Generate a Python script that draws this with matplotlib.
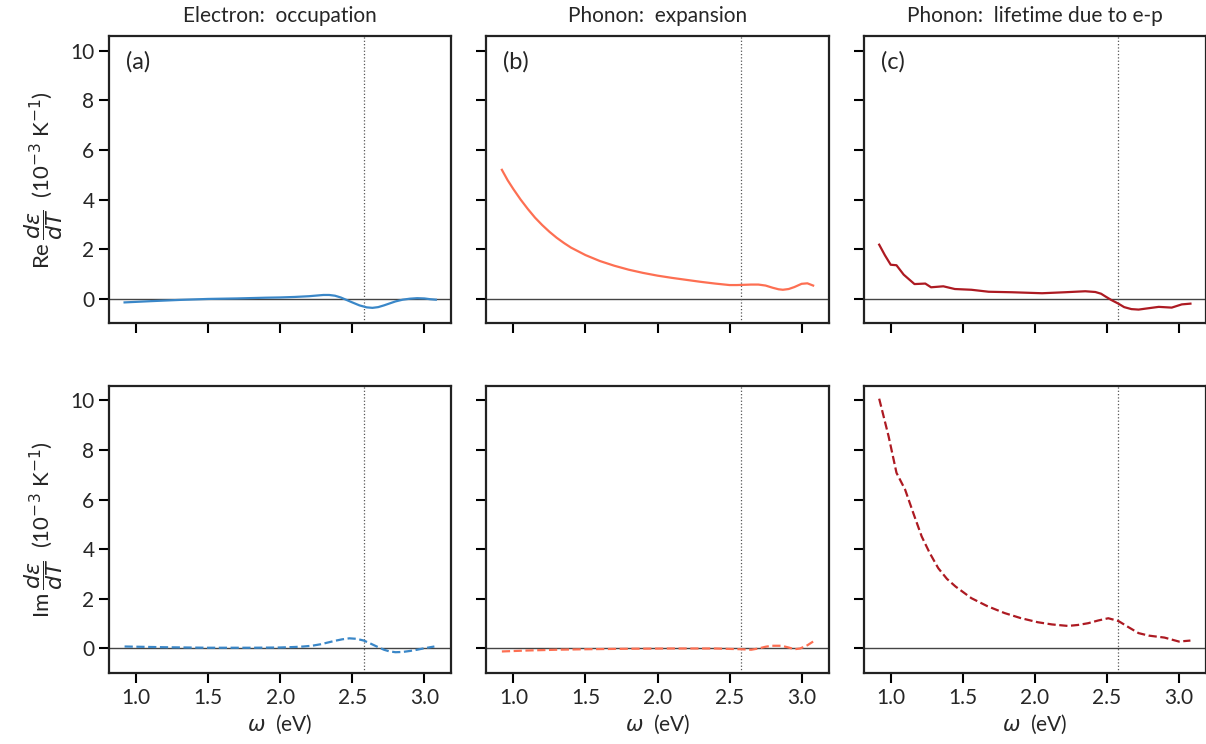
import numpy as np
import matplotlib
matplotlib.use('Agg')
import matplotlib.pyplot as plt

plt.rcParams['font.family'] = ['Lato', 'DejaVu Sans']
plt.rcParams['mathtext.fontset'] = 'dejavusans'
plt.rcParams['font.size'] = 15
plt.rcParams['text.color'] = '#262626'
plt.rcParams['axes.labelcolor'] = '#262626'
plt.rcParams['xtick.labelcolor'] = '#262626'
plt.rcParams['ytick.labelcolor'] = '#262626'

# photon energy grid for each curve (eV)
w_re_occ = [0.92, 1.1, 1.3, 1.5, 1.7, 1.9, 2.0, 2.1, 2.2, 2.26, 2.3, 2.34, 2.38, 2.42, 2.46, 2.5, 2.55, 2.6, 2.64, 2.68, 2.72, 2.76, 2.8, 2.85, 2.9, 2.95, 3.0, 3.04, 3.08]
re_occ = [-0.15, -0.1, -0.05, -0.01, 0.01, 0.04, 0.05, 0.07, 0.1, 0.13, 0.15, 0.15, 0.12, 0.05, -0.05, -0.15, -0.27, -0.35, -0.37, -0.34, -0.27, -0.19, -0.11, -0.04, 0.0, 0.02, 0.01, -0.02, -0.04]

w_im_occ = [0.92, 1.2, 1.5, 1.8, 2.0, 2.1, 2.16, 2.22, 2.28, 2.33, 2.38, 2.43, 2.48, 2.53, 2.58, 2.63, 2.67, 2.72, 2.76, 2.8, 2.85, 2.9, 2.95, 3.0, 3.07]
im_occ = [0.07, 0.04, 0.02, 0.02, 0.03, 0.05, 0.07, 0.1, 0.16, 0.23, 0.3, 0.36, 0.4, 0.38, 0.31, 0.18, 0.07, -0.06, -0.13, -0.16, -0.15, -0.11, -0.06, 0.0, 0.07]

w_re_exp = [0.92, 0.96, 1.0, 1.05, 1.1, 1.15, 1.2, 1.25, 1.3, 1.35, 1.4, 1.5, 1.6, 1.7, 1.8, 1.9, 2.0, 2.1, 2.2, 2.3, 2.4, 2.5, 2.55, 2.6, 2.65, 2.7, 2.75, 2.8, 2.84, 2.87, 2.91, 2.95, 3.0, 3.04, 3.08]
re_exp = [5.2, 4.78, 4.42, 4.0, 3.62, 3.27, 2.97, 2.7, 2.46, 2.25, 2.06, 1.76, 1.52, 1.33, 1.17, 1.04, 0.93, 0.84, 0.76, 0.68, 0.61, 0.55, 0.55, 0.56, 0.57, 0.57, 0.53, 0.44, 0.38, 0.36, 0.39, 0.47, 0.6, 0.62, 0.53]

w_im_exp = [0.92, 1.1, 1.3, 1.5, 1.8, 2.1, 2.4, 2.58, 2.65, 2.7, 2.75, 2.79, 2.86, 2.91, 2.95, 2.99, 3.04, 3.08]
im_exp = [-0.13, -0.09, -0.06, -0.04, -0.02, -0.01, -0.01, -0.04, -0.06, -0.01, 0.06, 0.1, 0.1, 0.03, -0.04, -0.01, 0.12, 0.27]

w_re_life = [0.92, 0.96, 1.0, 1.04, 1.09, 1.165, 1.24, 1.28, 1.365, 1.445, 1.56, 1.68, 1.84, 2.05, 2.21, 2.35, 2.42, 2.46, 2.49, 2.53, 2.58, 2.62, 2.67, 2.72, 2.77, 2.86, 2.95, 3.02, 3.08]
re_life = [2.18, 1.75, 1.37, 1.35, 0.97, 0.59, 0.61, 0.46, 0.5, 0.39, 0.36, 0.28, 0.26, 0.22, 0.26, 0.3, 0.27, 0.2, 0.09, -0.05, -0.2, -0.34, -0.42, -0.44, -0.4, -0.33, -0.36, -0.23, -0.2]

w_im_life = [0.92, 0.985, 1.04, 1.1, 1.16, 1.215, 1.27, 1.33, 1.39, 1.45, 1.56, 1.67, 1.79, 1.9, 2.02, 2.12, 2.23, 2.3, 2.37, 2.44, 2.51, 2.58, 2.65, 2.72, 2.79, 2.9, 2.95, 3.0, 3.08]
im_life = [10.07, 8.56, 7.08, 6.4, 5.4, 4.51, 3.85, 3.23, 2.8, 2.49, 2.02, 1.7, 1.42, 1.22, 1.05, 0.96, 0.9, 0.94, 1.01, 1.12, 1.21, 1.1, 0.85, 0.61, 0.51, 0.43, 0.35, 0.27, 0.31]

titles = ['Electron:  occupation', 'Phonon:  expansion', 'Phonon:  lifetime due to e-p']
panel_tags = ['(a)', '(b)', '(c)']
colors = ['#3a87c8', '#fd6f52', '#ad1a22']
w_gap = 2.58

re_data = [(w_re_occ, re_occ), (w_re_exp, re_exp), (w_re_life, re_life)]
im_data = [(w_im_occ, im_occ), (w_im_exp, im_exp), (w_im_life, im_life)]

fig, axes = plt.subplots(2, 3, figsize=(12.06, 7.44), dpi=100, sharex=True, sharey=True)
fig.subplots_adjust(left=0.0904, right=1.0, top=0.9516, bottom=0.0954, wspace=0.102, hspace=0.216)

for j in range(3):
    ax = axes[0, j]
    ax.plot(re_data[j][0], re_data[j][1], color=colors[j], lw=1.6)
    ax.set_title(titles[j], fontsize=15, pad=10)
    ax.text(0.05, 0.91, panel_tags[j], transform=ax.transAxes, fontsize=17, va='center')
    ax = axes[1, j]
    ax.plot(im_data[j][0], im_data[j][1], color=colors[j], lw=1.6, ls='--')
    ax.set_xlabel(r'$\omega$  (eV)', fontsize=15)

for ax in axes.flat:
    ax.axhline(0, color='#444444', lw=1.0, zorder=1)
    ax.axvline(w_gap, color='#555555', lw=0.9, ls=':', zorder=1)
    ax.set_ylim(-1, 10.6)
    ax.set_yticks([0, 2, 4, 6, 8, 10])
    ax.set_xticks([1.0, 1.5, 2.0, 2.5, 3.0])
    ax.tick_params(direction='out', length=7, width=1.5, labelsize=15)
    for s in ax.spines.values():
        s.set_linewidth(1.6)
        s.set_color('#222222')

axes[0, 0].margins(x=0.05)
axes[0, 0].set_ylabel(r'Re$\,\dfrac{d\epsilon}{dT}$  (10$^{-3}$ K$^{-1}$)', fontsize=16)
axes[1, 0].set_ylabel(r'Im$\,\dfrac{d\epsilon}{dT}$  (10$^{-3}$ K$^{-1}$)', fontsize=16)

fig.savefig('out.png', dpi=100)
